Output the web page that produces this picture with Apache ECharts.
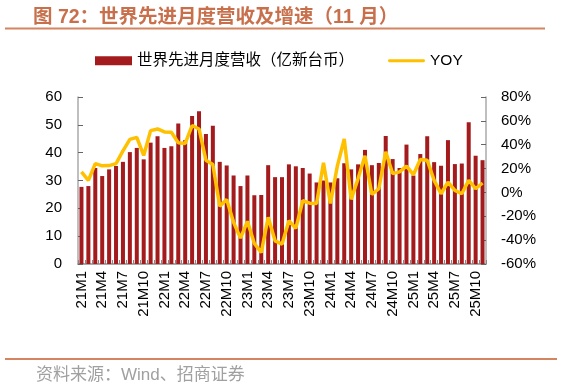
<!DOCTYPE html>
<html>
<head>
<meta charset="utf-8">
<script src="https://cdn.jsdelivr.net/npm/echarts@6/dist/echarts.min.js"></script>
<style>
html,body{margin:0;padding:0;background:#fff;}
#c{width:563px;height:386px;}
</style>
</head>
<body>
<div id="c"></div>
<script>
const months = [
 '21M1','21M2','21M3','21M4','21M5','21M6','21M7','21M8','21M9','21M10','21M11','21M12',
 '22M1','22M2','22M3','22M4','22M5','22M6','22M7','22M8','22M9','22M10','22M11','22M12',
 '23M1','23M2','23M3','23M4','23M5','23M6','23M7','23M8','23M9','23M10','23M11','23M12',
 '24M1','24M2','24M3','24M4','24M5','24M6','24M7','24M8','24M9','24M10','24M11','24M12',
 '25M1','25M2','25M3','25M4','25M5','25M6','25M7','25M8','25M9','25M10','25M11'
];
const revenue = [
 27.7,28.0,34.5,31.6,34.0,35.2,36.7,40.2,41.7,37.6,43.6,45.9,
 41.7,42.3,50.5,44.5,53.2,54.9,46.7,49.7,36.7,35.4,31.8,28.0,
 31.8,24.7,24.8,35.5,31.2,31.2,35.8,35.1,34.5,32.5,29.3,30.0,
 29.3,30.8,36.2,34.0,35.8,41.0,35.5,36.3,46.0,37.7,34.5,42.9,
 31.8,39.5,45.9,36.6,35.3,44.5,35.9,36.1,50.9,38.9,37.3
];
const yoy = [
 17.2,10.1,24.2,22.3,22.5,24.2,34.9,44.5,46.2,31.0,51.8,53.2,
 50.7,50.4,41.7,41.1,56.1,53.2,27.0,23.4,-11.5,-5.9,-25.1,-38.3,
 -24.2,-42.8,-50.4,-20.8,-40.6,-43.4,-23.7,-30.1,-7.0,-9.0,-9.3,24.8,
 -9.3,22.0,44.8,-5.8,11.6,30.8,-1.7,3.1,34.1,15.8,17.2,22.0,
 14.9,27.6,27.0,10.1,-1.1,8.7,1.7,-1.1,10.1,3.1,7.9
];
const leftTicks = {min:0, max:60, interval:10};
const rightTicks = {min:-60, max:80, interval:20};
const titleText = '图 72：世界先进月度营收及增速（11 月）';
const barName = '世界先进月度营收（亿新台币）';
const lineName = 'YOY';
const sourceText = '资料来源：Wind、招商证券';

const cjk = '"Liberation Sans", Arial, "Noto Sans CJK SC", sans-serif';
const chart = echarts.init(document.getElementById('c'), null, {renderer:'canvas'});
chart.setOption({
  animation:false,
  backgroundColor:'#fff',
  title:[
    {text:titleText, left:28, top:3,
     textStyle:{fontFamily:cjk, fontSize:19.5, fontWeight:'bold', color:'#C8704C'}},
    {text:sourceText, left:31, top:362,
     textStyle:{fontFamily:cjk, fontSize:17, fontWeight:'normal', color:'#a0a0a0'}}
  ],
  graphic:[
    {type:'line', shape:{x1:5,y1:28.5,x2:545,y2:28.5}, style:{stroke:'#D4845F', lineWidth:2}},
    {type:'line', shape:{x1:5,y1:359,x2:557,y2:359}, style:{stroke:'#D4845F', lineWidth:2}}
  ],
  legend:{
    left:90, top:48, itemGap:34, itemWidth:37, itemHeight:9,
    textStyle:{fontFamily:cjk, fontSize:15.5, color:'#000'},
    data:[
      {name:barName, icon:'rect'},
      {name:lineName, icon:'path://M1.5 0 H38.5 A1.5 1.5 0 0 1 38.5 3 H1.5 A1.5 1.5 0 0 1 1.5 0 Z',
       itemStyle:{color:'#FFC000'}}
    ]
  },
  grid:{left:78, right:77, top:97, bottom:122, containLabel:false},
  xAxis:{
    type:'category', data:months, boundaryGap:true,
    axisLine:{lineStyle:{color:'#aaaaaa', width:2}},
    axisTick:{show:true, inside:true, length:4, interval:0, lineStyle:{color:'#888'}},
    axisLabel:{interval:2, rotate:90, fontSize:15, color:'#000', margin:7, fontFamily:cjk}
  },
  yAxis:[
    {type:'value', min:leftTicks.min, max:leftTicks.max, interval:leftTicks.interval,
     axisLine:{show:true, lineStyle:{color:'#aaaaaa', width:1.5}},
     axisTick:{show:true, inside:true, length:5, lineStyle:{color:'#666'}},
     splitLine:{show:false},
     axisLabel:{fontSize:15, color:'#000', margin:16, fontFamily:cjk}},
    {type:'value', min:rightTicks.min, max:rightTicks.max, interval:rightTicks.interval,
     position:'right',
     axisLine:{show:true, lineStyle:{color:'#aaaaaa', width:1.5}},
     axisTick:{show:true, inside:true, length:5, lineStyle:{color:'#666'}},
     splitLine:{show:false},
     axisLabel:{fontSize:15, color:'#000', margin:15, fontFamily:cjk, formatter:'{value}%'}}
  ],
  series:[
    {name:barName, type:'bar', data:revenue, barWidth:'58%', yAxisIndex:0,
     itemStyle:{color:'#A31B1D'}},
    {name:lineName, type:'line', data:yoy, yAxisIndex:1, symbol:'none', z:5,
     lineStyle:{color:'#FFC000', width:3.5}, itemStyle:{color:'#FFC000'}}
  ]
});
</script>
</body>
</html>
